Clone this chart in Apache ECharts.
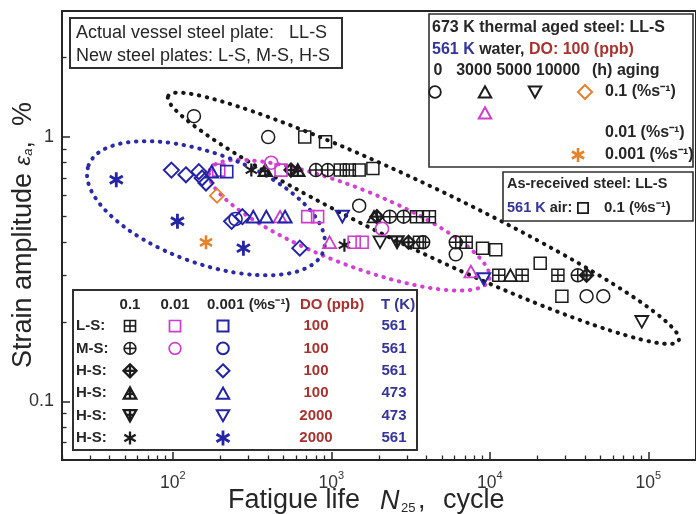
<!DOCTYPE html>
<html><head><meta charset="utf-8">
<script src="https://cdn.jsdelivr.net/npm/echarts@6/dist/echarts.min.js"></script>
<style>html,body{margin:0;padding:0;background:#fff}#c{width:696px;height:514px}</style>
</head><body><div id="c"></div>
<script>
// ---------- axis ranges and ticks ----------
const xMin = 20, xMax = 200000, yMin = 0.06, yMax = 3;
const xMajorTicks = [100, 1000, 10000, 100000];
const xTickExp = ['2', '3', '4', '5'];
const yMajorTicks = [0.1, 1];
const yTickLabels = ['0.1', '1'];
const xMinorTicks = [];
[10, 100, 1000, 10000, 100000].forEach(d => { for (let k = 2; k <= 9; k++) xMinorTicks.push(d * k); });
const yMinorTicks = [0.07, 0.08, 0.09, 0.2, 0.3, 0.4, 0.5, 0.6, 0.7, 0.8, 0.9, 2];

// ---------- data: [fatigue life (cycles), strain amplitude (%)] ----------
// LL-S thermally aged (561 K water, 100 ppb)
const agedCircle0h   = [[136,1.2],[400,1.0],[1500,0.55],[6100,0.36],[40800,0.25],[52000,0.25]];
const agedTri3000h   = [[1860,0.5],[13500,0.3]];
const agedTriD5000h  = [[2030,0.4],[91000,0.2]];
const agedDiam10000h = [[190,0.6]];
const agedTri3000hMid = [[475,0.5],[975,0.4],[7600,0.31]];
const agedAst10000hSlow = [[162,0.4]];
// LL-S as received, 561 K air
const airSquare = [[680,1.0],[920,0.96],[1500,0.75],[1830,0.76],[9000,0.38],[10900,0.375],[20800,0.333],[28500,0.25]];
// New steels, 0.1 %/s
const lsFast = [[1140,0.75],[1300,0.75],[3450,0.5],[4160,0.5],[3600,0.4],[7100,0.4],[11400,0.3],[16000,0.3],[26900,0.3]];
const msFast = [[800,0.75],[950,0.75],[2340,0.5],[2860,0.5],[3800,0.4],[6100,0.4],[35900,0.3]];
const hsFastDiam = [[557,0.75],[1940,0.5],[3070,0.4],[40800,0.3]];
const hsFastTri  = [[383,0.75],[615,0.75]];
const hsFastTriD = [[2600,0.4]];
const hsFastAst  = [[313,0.75],[1210,0.39]];
// 0.01 %/s
const lsMid = [[195,0.75],[482,0.75],[710,0.5],[820,0.5],[1395,0.4],[1565,0.4]];
const msMid = [[418,0.8],[2090,0.45]];
// 0.001 %/s
const lsSlow = [[219,0.74]];
const msSlow = [[249,0.49]];
const hsSlowDiam = [[98,0.75],[121,0.72],[146,0.74],[153,0.7],[162,0.67],[235,0.48],[275,0.5],[633,0.38]];
const hsSlowTri  = [[176,0.74],[322,0.5],[389,0.5],[511,0.5]];
const hsSlowTriD = [[1175,0.5],[9160,0.29]];
const hsSlowAst  = [[44,0.69],[107,0.48],[279,0.38]];

// ---------- styles ----------
const FONT = '"Liberation Sans", Arial, sans-serif';
const BLACK = '#1c1c1c', NAVY = '#2424a6', MAG = '#cf3ccf', ORANGE = '#e5822e', RED = '#a8322e', TNAVY = '#34349a';
const SYM = {
  sq: 'M1 1H9V9H1Z',
  circ: 'M0.5 5A4.5 4.5 0 1 0 9.5 5A4.5 4.5 0 1 0 0.5 5Z',
  diam: 'M5 0L10 5L5 10L0 5Z',
  tri: 'M5 0.6L9.8 9.2L0.2 9.2Z',
  trid: 'M0.2 0.8L9.8 0.8L5 9.4Z',
  ast: 'M5 0V10M0.67 2.5L9.33 7.5M0.67 7.5L9.33 2.5',
  sqx: 'M1 1H9V9H1ZM5 1V9M1 5H9',
  circx: 'M0.5 5A4.5 4.5 0 1 0 9.5 5A4.5 4.5 0 1 0 0.5 5ZM5 0.5V9.5M0.5 5H9.5',
  diamx: 'M5 0L10 5L5 10L0 5ZM5 0V10M0 5H10',
  trix: 'M5 0.6L9.8 9.2L0.2 9.2ZM5 0.6V9.2M2.6 5.6H7.4',
  tridx: 'M0.2 0.8L9.8 0.8L5 9.4ZM5 0.8V9.4M2.6 4.4H7.4'
};
function sc(name, data, sym, color, size, lw) {
  return { type: 'scatter', name, data, symbol: 'path://' + SYM[sym], symbolSize: size, symbolKeepAspect: true,
    itemStyle: { color: 'rgba(0,0,0,0)', borderColor: color, borderWidth: lw, opacity: 1 },
    emphasis: { disabled: true }, z: 3, silent: true };
}
const series = [
  sc('air', airSquare, 'sq', BLACK, 12, 1.5),
  sc('aged0', agedCircle0h, 'circ', BLACK, 13, 1.5),
  sc('aged3000', agedTri3000h, 'tri', BLACK, 13, 1.8),
  sc('aged5000', agedTriD5000h, 'trid', BLACK, 13, 1.8),
  sc('aged10000', agedDiam10000h, 'diam', ORANGE, 14, 1.8),
  sc('aged3000mid', agedTri3000hMid, 'tri', MAG, 13, 1.8),
  sc('aged10000slow', agedAst10000hSlow, 'ast', ORANGE, 14, 2.6),
  sc('lsFast', lsFast, 'sqx', BLACK, 12, 1.5),
  sc('msFast', msFast, 'circx', BLACK, 13, 1.5),
  sc('hsFastDiam', hsFastDiam, 'diamx', BLACK, 13, 2.2),
  sc('hsFastTri', hsFastTri, 'trix', BLACK, 13, 2.2),
  sc('hsFastTriD', hsFastTriD, 'tridx', BLACK, 13, 2.2),
  sc('hsFastAst', hsFastAst, 'ast', BLACK, 13, 2.2),
  sc('lsMid', lsMid, 'sq', MAG, 12, 1.6),
  sc('msMid', msMid, 'circ', MAG, 13, 1.6),
  sc('lsSlow', lsSlow, 'sq', NAVY, 12, 1.6),
  sc('msSlow', msSlow, 'circ', NAVY, 13, 1.6),
  sc('hsSlowDiam', hsSlowDiam, 'diam', NAVY, 15, 2),
  sc('hsSlowTri', hsSlowTri, 'tri', NAVY, 13, 2),
  sc('hsSlowTriD', hsSlowTriD, 'trid', NAVY, 13, 2),
  sc('hsSlowAst', hsSlowAst, 'ast', NAVY, 15, 2.8)
];

const AX = '#262626';
const chart = echarts.init(document.getElementById('c'));
chart.setOption({
  animation: false,
  backgroundColor: '#fff',
  grid: { left: 62, right: -7, top: 11, bottom: 54, show: true, borderColor: AX, borderWidth: 2, backgroundColor: 'transparent' },
  xAxis: [
    { type: 'log', logBase: 10, min: xMin, max: xMax, position: 'bottom',
      axisLine: { show: true, onZero: false, lineStyle: { color: AX, width: 2 } },
      axisTick: { show: true, inside: true, length: 8, lineStyle: { color: AX, width: 1.5 }, customValues: xMajorTicks },
      axisLabel: { customValues: xMajorTicks, margin: 10, color: '#333',
        formatter: v => '{b|10}{s|' + xTickExp[xMajorTicks.indexOf(v)] + '}',
        rich: { b: { fontSize: 17.5, fontFamily: FONT, color: '#333', lineHeight: 22, verticalAlign: 'bottom' },
                s: { fontSize: 11, fontFamily: FONT, color: '#333', lineHeight: 11, verticalAlign: 'top' } } },
      splitLine: { show: false } },
    { type: 'log', logBase: 10, min: xMin, max: xMax, position: 'bottom',
      axisLine: { show: false },
      axisTick: { show: true, inside: true, length: 4.5, lineStyle: { color: AX, width: 1.3 }, customValues: xMinorTicks },
      axisLabel: { show: false }, splitLine: { show: false } }
  ],
  yAxis: [
    { type: 'log', logBase: 10, min: yMin, max: yMax, position: 'left',
      axisLine: { show: true, onZero: false, lineStyle: { color: AX, width: 2 } },
      axisTick: { show: true, inside: true, length: 8, lineStyle: { color: AX, width: 1.5 }, customValues: yMajorTicks },
      axisLabel: { customValues: yMajorTicks, margin: 8, fontSize: 18, fontFamily: FONT, color: '#333',
        formatter: v => yTickLabels[yMajorTicks.indexOf(v)] },
      splitLine: { show: false } },
    { type: 'log', logBase: 10, min: yMin, max: yMax, position: 'left',
      axisLine: { show: false },
      axisTick: { show: true, inside: true, length: 4.5, lineStyle: { color: AX, width: 1.3 }, customValues: yMinorTicks },
      axisLabel: { show: false }, splitLine: { show: false } }
  ],
  series
});

// ---------- annotations ----------
const ellipses = [
  { center: [3814, 0.493], rx: 283, ry: 32, angle: -25.6, color: '#151515' },
  { center: [1299, 0.464], rx: 150, ry: 38, angle: -21.5, color: '#d43fd4' },
  { center: [162, 0.538], rx: 125, ry: 55, angle: -20, color: '#2a2aa8' }
];
const G = [];
ellipses.forEach(e => {
  const p = chart.convertToPixel({ seriesIndex: 0 }, e.center);
  G.push({ type: 'ellipse', x: p[0], y: p[1], rotation: e.angle * Math.PI / 180, z: 1, silent: true,
    shape: { cx: 0, cy: 0, rx: e.rx, ry: e.ry },
    style: { fill: 'none', stroke: e.color, lineWidth: 4, lineDash: [0.5, 7.5], lineCap: 'round' } });
});
function box(x, y, w, h, lw) {
  G.push({ type: 'rect', z: 100, silent: true, shape: { x, y, width: w, height: h },
    style: { fill: '#fff', stroke: '#303030', lineWidth: lw } });
}
function txt(x, y, text, o) {
  o = o || {};
  G.push({ type: 'text', x, y, z: 101, silent: true, rotation: o.rot || 0,
    style: { text, fill: o.color || '#262626', font: (o.italic ? 'italic ' : '') + (o.bold ? 'bold ' : '') + (o.size || 16) + 'px ' + FONT,
      align: o.align || 'left', verticalAlign: o.va || 'middle', rich: o.rich } });
}
// legend symbol drawn from primitive shapes
function mk(cx, cy, sym, color, s, lw) {
  const h = s / 2;
  const add = (type, shape) => G.push({ type, z: 101, silent: true, shape, style: { fill: 'none', stroke: color, lineWidth: lw } });
  const line = (x1, y1, x2, y2) => add('line', { x1: cx + x1 * h, y1: cy + y1 * h, x2: cx + x2 * h, y2: cy + y2 * h });
  const poly = pts => add('polygon', { points: pts.map(p => [cx + p[0] * h, cy + p[1] * h]) });
  if (sym === 'sq' || sym === 'sqx') {
    add('rect', { x: cx - h * 0.85, y: cy - h * 0.85, width: h * 1.7, height: h * 1.7 });
    if (sym === 'sqx') { line(0, -0.85, 0, 0.85); line(-0.85, 0, 0.85, 0); }
  } else if (sym === 'circ' || sym === 'circx') {
    add('circle', { cx, cy, r: h * 0.9 });
    if (sym === 'circx') { line(0, -0.9, 0, 0.9); line(-0.9, 0, 0.9, 0); }
  } else if (sym === 'diam' || sym === 'diamx') {
    poly([[0, -1], [1, 0], [0, 1], [-1, 0]]);
    if (sym === 'diamx') { line(0, -1, 0, 1); line(-1, 0, 1, 0); }
  } else if (sym === 'tri' || sym === 'trix') {
    poly([[0, -0.88], [0.96, 0.84], [-0.96, 0.84]]);
    if (sym === 'trix') { line(0, -0.88, 0, 0.84); line(-0.48, 0.12, 0.48, 0.12); }
  } else if (sym === 'trid' || sym === 'tridx') {
    poly([[-0.96, -0.84], [0.96, -0.84], [0, 0.88]]);
    if (sym === 'tridx') { line(0, -0.84, 0, 0.88); line(-0.48, -0.12, 0.48, -0.12); }
  } else if (sym === 'ast') {
    line(0, -1, 0, 1); line(-0.87, -0.5, 0.87, 0.5); line(-0.87, 0.5, 0.87, -0.5);
  }
}
// box 1
box(70, 18, 272, 50, 2);
txt(76, 33, 'Actual vessel steel plate:   LL-S', { size: 18 });
txt(76, 56, 'New steel plates: L-S, M-S, H-S', { size: 18 });
// box 2
box(429, 14, 264, 153, 1.6);
const B2 = 16;
const bf = 'bold ' + B2 + 'px ' + FONT;
txt(432, 28, '673 K thermal aged steel: LL-S', { size: B2, bold: true });
txt(432, 50, '{n|561 K} {k|water,} {r|DO: 100 (ppb)}', { size: B2, bold: true,
  rich: { n: { fill: TNAVY, font: bf }, k: { fill: '#262626', font: bf }, r: { fill: RED, font: bf } } });
txt(438, 71, '0', { size: B2, bold: true, align: 'center' });
txt(474, 71, '3000', { size: B2, bold: true, align: 'center' });
txt(514, 71, '5000', { size: B2, bold: true, align: 'center' });
txt(558, 71, '10000', { size: B2, bold: true, align: 'center' });
txt(592, 71, '(h) aging', { size: B2, bold: true });
mk(435, 92, 'circ', BLACK, 13, 1.8);
mk(485, 92, 'tri', BLACK, 13, 2);
mk(535, 92, 'trid', BLACK, 13, 2);
mk(585, 92, 'diam', ORANGE, 14, 2);
txt(605, 92, '0.1 (%s⁻¹)', { size: B2, bold: true });
mk(485, 113, 'tri', MAG, 13, 2);
txt(605, 133, '0.01 (%s⁻¹)', { size: B2, bold: true });
mk(578, 155, 'ast', ORANGE, 14, 2.6);
txt(605, 155, '0.001 (%s⁻¹)', { size: B2, bold: true });
// box 3
box(503, 172, 190, 49, 1.6);
const B3 = 14.5;
const bf3 = 'bold ' + B3 + 'px ' + FONT;
txt(507, 184, 'As-received steel: LL-S', { size: B3, bold: true });
txt(507, 208, '{n|561 K} {k|air:}', { size: B3, bold: true,
  rich: { n: { fill: TNAVY, font: bf3 }, k: { fill: '#262626', font: bf3 } } });
mk(583, 208, 'sq', BLACK, 12, 1.8);
txt(604, 208, '0.1 (%s⁻¹)', { size: B3 + 0.5, bold: true });
// box 4 (table)
box(73, 290, 344, 160, 2);
const B4 = 15;
txt(130, 305, '0.1', { size: B4, bold: true, align: 'center' });
txt(175, 305, '0.01', { size: B4, bold: true, align: 'center' });
txt(207, 305, '0.001 (%s⁻¹)', { size: B4, bold: true });
txt(300, 305, 'DO (ppb)', { size: B4, bold: true, color: RED });
txt(381, 305, 'T (K)', { size: B4, bold: true, color: TNAVY });
const rows = [
  ['L-S:', 'sqx', 'sq', 'sq', '100', '561'],
  ['M-S:', 'circx', 'circ', 'circ', '100', '561'],
  ['H-S:', 'diamx', null, 'diam', '100', '561'],
  ['H-S:', 'trix', null, 'tri', '100', '473'],
  ['H-S:', 'tridx', null, 'trid', '2000', '473'],
  ['H-S:', 'ast', null, 'ast', '2000', '561']
];
rows.forEach((r, i) => {
  const y = 326 + i * 22.4;
  txt(76, y, r[0], { size: B4, bold: true });
  mk(130, y, r[1], BLACK, 13, i < 2 ? 1.6 : 2.3);
  if (r[2]) mk(175, y, r[2], MAG, 13, 1.7);
  mk(223, y, r[3], NAVY, r[3] === 'ast' ? 15 : 13, r[3] === 'ast' ? 2.8 : 2);
  txt(316, y, r[4], { size: B4, bold: true, color: RED, align: 'center' });
  txt(394, y, r[5], { size: B4, bold: true, color: TNAVY, align: 'center' });
});
// axis names
txt(228, 501, 'Fatigue life', { size: 27 });
txt(380, 501, 'N', { size: 27, italic: true });
txt(401, 508, '25', { size: 13 });
txt(418, 501, ',', { size: 27 });
txt(443, 501, 'cycle', { size: 27 });
txt(24, 235, '{t|Strain amplitude }{e|ε}{s|a}{t|,  %}', { size: 27, rot: Math.PI / 2, align: 'center',
  rich: { t: { font: '27px ' + FONT, fill: '#262626' }, e: { font: 'italic 22px ' + FONT, fill: '#262626' },
          s: { font: 'italic 13px ' + FONT, fill: '#262626', padding: [11, 0, 0, 0], verticalAlign: 'top' } } });

chart.setOption({ graphic: { elements: G } });
</script></body></html>
